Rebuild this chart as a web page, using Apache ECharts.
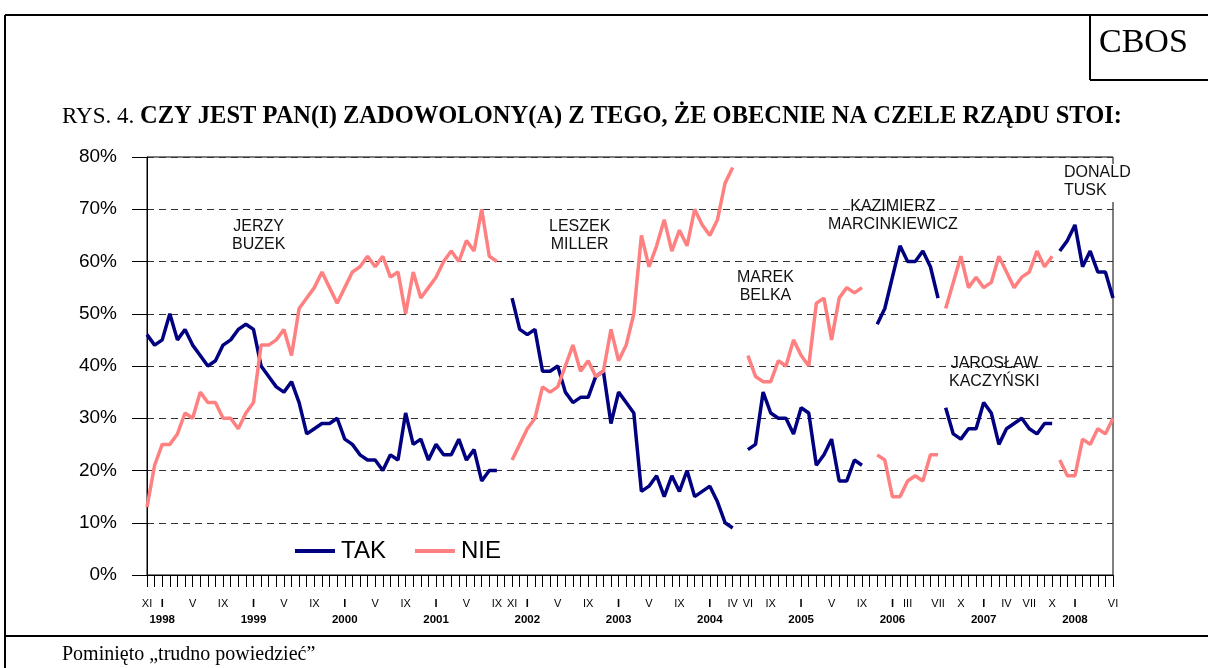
<!DOCTYPE html>
<html>
<head>
<meta charset="utf-8">
<script src="https://cdn.jsdelivr.net/npm/echarts@6/dist/echarts.min.js"></script>
<style>
  html, body { margin: 0; padding: 0; background: #fff; }
  #chart { width: 1208px; height: 668px; }
</style>
</head>
<body>
<div id="chart"></div>
<script>
// miesiące XI 1997 - VI 2008
const months = [];
for (let y = 1997, m = 11; y < 2008 || m <= 6; m++) {
    if (m > 12) { m = 1; y++; }
    months.push(y + '-' + String(m).padStart(2, '0'));
}

// podpisy osi X
const tickCats = ['1997-11', '1998-01', '1998-05', '1998-09', '1999-01', '1999-05', '1999-09',
    '2000-01', '2000-05', '2000-09', '2001-01', '2001-05', '2001-09', '2001-11', '2002-01',
    '2002-05', '2002-09', '2003-01', '2003-05', '2003-09', '2004-01', '2004-04', '2004-06',
    '2004-09', '2005-01', '2005-05', '2005-09', '2006-01', '2006-03', '2006-07', '2006-10',
    '2007-01', '2007-04', '2007-07', '2007-10', '2008-01', '2008-06'];
const tickTexts = ['XI', 'I', 'V', 'IX', 'I', 'V', 'IX', 'I', 'V', 'IX', 'I', 'V', 'IX', 'XI', 'I',
    'V', 'IX', 'I', 'V', 'IX', 'I', 'IV', 'VI', 'IX', 'I', 'V', 'IX', 'I', 'III', 'VII', 'X',
    'I', 'IV', 'VII', 'X', 'I', 'VI'];
const yTicks = ['0%', '10%', '20%', '30%', '40%', '50%', '60%', '70%', '80%'];

// dane - kolejne rządy
const takBuzek = [46, 44, 45, 50, 45, 47, 44, 42, 40, 41, 44, 45, 47, 48, 47, 40, 38, 36, 35, 37,
    33, 27, 28, 29, 29, 30, 26, 25, 23, 22, 22, 20, 23, 22, 31, 25, 26, 22, 25, 23, 23, 26, 22, 24, 18, 20, 20];
const nieBuzek = [13, 21, 25, 25, 27, 31, 30, 35, 33, 33, 30, 30, 28, 31, 33, 44, 44, 45, 47, 42,
    51, 53, 55, 58, 55, 52, 55, 58, 59, 61, 59, 61, 57, 58, 50, 58, 53, 55, 57, 60, 62, 60, 64, 62, 70, 61, 60];
const takMiller = [53, 47, 46, 47, 39, 39, 40, 35, 33, 34, 34, 38, 39, 29, 35, 33, 31, 16, 17, 19,
    15, 19, 16, 20, 15, 16, 17, 14, 10, 9];
const nieMiller = [22, 25, 28, 30, 36, 35, 36, 40, 44, 39, 41, 38, 39, 47, 41, 44, 50, 65, 59, 63,
    68, 62, 66, 63, 70, 67, 65, 68, 75, 78];
const takBelka = [24, 25, 35, 31, 30, 30, 27, 32, 31, 21, 23, 26, 18, 18, 22, 21];
const nieBelka = [42, 38, 37, 37, 41, 40, 45, 42, 40, 52, 53, 45, 53, 55, 54, 55];
const takMarc = [48, 51, 57, 63, 60, 60, 62, 59, 53];
const nieMarc = [23, 22, 15, 15, 18, 19, 18, 23, 23];
const takKacz = [32, 27, 26, 28, 28, 33, 31, 25, 28, 29, 30, 28, 27, 29, 29];
const nieKacz = [51, 56, 61, 55, 57, 55, 56, 61, 58, 55, 57, 58, 62, 59, 61];
const takTusk = [62, 64, 67, 59, 62, 58, 58, 53];
const nieTusk = [22, 19, 19, 26, 25, 28, 27, 30];
const startMonths = ['1997-11', '2001-11', '2004-06', '2005-11', '2006-08', '2007-11'];

const segments = [
    [takBuzek, nieBuzek], [takMiller, nieMiller], [takBelka, nieBelka],
    [takMarc, nieMarc], [takKacz, nieKacz], [takTusk, nieTusk]
];

const NAVY = '#000080';
const PINK = '#FF8080';
const SANS = 'Liberation Sans, Arial, sans-serif';
const SERIF = 'Liberation Serif, Times New Roman, serif';

const toData = (vals, start) => {
    const s = months.indexOf(start);
    return vals.map((v, k) => [months[s + k], v]);
};

const series = [];
segments.forEach((seg, idx) => {
    series.push({
        name: 'TAK', type: 'line', symbol: 'none', data: toData(seg[0], startMonths[idx]),
        lineStyle: { color: NAVY, width: 3.5 }, itemStyle: { color: NAVY }, animation: false
    });
    series.push({
        name: 'NIE', type: 'line', symbol: 'none', data: toData(seg[1], startMonths[idx]),
        lineStyle: { color: PINK, width: 3.5 }, itemStyle: { color: PINK }, animation: false
    });
});

const annText = (txt, x, y, align, bg) => ({
    type: 'text', left: x, top: y, z: 100,
    style: {
        text: txt, font: '16px ' + SANS, fill: '#111', textAlign: align || 'center',
        lineHeight: 18, backgroundColor: bg || 'transparent', padding: bg ? [0, 2, 2, 0] : 0
    }
});

const chart = echarts.init(document.getElementById('chart'));
chart.setOption({
    backgroundColor: '#fff',
    animation: false,
    title: {
        left: 62, top: 104, padding: 0,
        text: '{a|RYS. 4. }{b|CZY JEST PAN(I) ZADOWOLONY(A) Z TEGO, ŻE OBECNIE NA CZELE RZĄDU STOI:}',
        textStyle: {
            fontWeight: 'normal',
            rich: {
                a: { fontFamily: SERIF, fontSize: 23, fontWeight: 'normal', color: '#000' },
                b: { fontFamily: SERIF, fontSize: 24.5, fontWeight: 'bold', color: '#000' }
            }
        }
    },
    legend: {
        data: ['TAK', 'NIE'], left: 295, top: 539, padding: 0, itemGap: 29,
        icon: 'rect', itemWidth: 40, itemHeight: 4,
        textStyle: { fontFamily: SANS, fontSize: 24, color: '#000', padding: [0, 0, 0, 1] }
    },
    grid: {
        left: 147, right: 95, top: 157, bottom: 93, show: true,
        borderColor: '#000', borderWidth: 1
    },
    xAxis: {
        type: 'category', data: months, boundaryGap: false,
        axisLine: { lineStyle: { color: '#000', width: 1 } },
        axisTick: { interval: 0, length: 12, lineStyle: { color: '#000' } },
        axisLabel: {
            interval: 0, margin: 21,
            formatter: (val) => {
                const i = tickCats.indexOf(val);
                if (i < 0) return '';
                const t = tickTexts[i];
                if (t === 'I') return '{j|I}\n{y|' + val.slice(0, 4) + '}';
                return '{m|' + t + '}';
            },
            rich: {
                m: { fontFamily: SANS, fontSize: 11, color: '#000', lineHeight: 15 },
                j: { fontFamily: SANS, fontSize: 11, fontWeight: 'bold', color: '#000', lineHeight: 15 },
                y: { fontFamily: SANS, fontSize: 11.5, fontWeight: 'bold', color: '#000', lineHeight: 17 }
            }
        },
        splitLine: { show: false }
    },
    yAxis: {
        type: 'value', min: 0, max: 80, interval: 10,
        axisLine: { show: true, lineStyle: { color: '#000', width: 1 } },
        axisTick: { show: true, length: 15, lineStyle: { color: '#000' } },
        axisLabel: {
            margin: 30, fontFamily: SANS, fontSize: 19, color: '#000',
            formatter: (v) => yTicks[v / 10]
        },
        splitLine: { lineStyle: { color: '#333', type: [7, 5], width: 1 } }
    },
    series: series,
    graphic: [
        { type: 'line', shape: { x1: 5, y1: 15, x2: 1208, y2: 15 }, style: { stroke: '#000', lineWidth: 2 } },
        { type: 'line', shape: { x1: 5, y1: 15, x2: 5, y2: 668 }, style: { stroke: '#000', lineWidth: 2 } },
        { type: 'line', shape: { x1: 5, y1: 636, x2: 1208, y2: 636 }, style: { stroke: '#000', lineWidth: 2 } },
        { type: 'line', shape: { x1: 1090, y1: 15, x2: 1090, y2: 80 }, style: { stroke: '#000', lineWidth: 2 } },
        { type: 'line', shape: { x1: 1090, y1: 80, x2: 1208, y2: 80 }, style: { stroke: '#000', lineWidth: 2 } },
        { type: 'text', left: 1099, top: 26, style: { text: 'CBOS', font: '34px ' + SERIF, fill: '#000' } },
        { type: 'text', left: 62, top: 645, style: { text: 'Pominięto „trudno powiedzieć”', font: '20px ' + SERIF, fill: '#000' } },
        annText('JERZY\nBUZEK', 232, 218),
        annText('LESZEK\nMILLER', 549, 218),
        annText('MAREK\nBELKA', 737, 269),
        annText('KAZIMIERZ\nMARCINKIEWICZ', 828, 198),
        annText('JAROSŁAW\nKACZYŃSKI', 949, 355),
        annText('DONALD\nTUSK', 1064, 164, 'left', '#fff')
    ]
});
</script>
</body>
</html>
